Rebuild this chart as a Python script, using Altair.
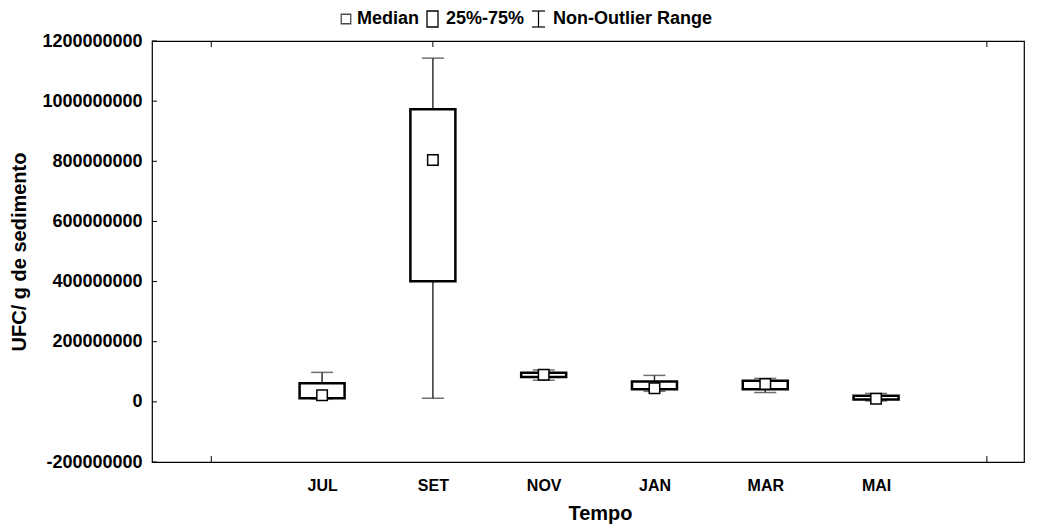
import altair as alt
import pandas as pd

categories = ["JUL", "SET", "NOV", "JAN", "MAR", "MAI"]
whisker_low = [10e6, 12e6, 72e6, 35e6, 31e6, 3e6]
q1 = [12e6, 401e6, 83e6, 42e6, 42e6, 8e6]
median = [22e6, 804e6, 90e6, 45e6, 59e6, 10e6]
q3 = [62e6, 973e6, 97e6, 68e6, 70e6, 20e6]
whisker_high = [98e6, 1143e6, 106e6, 88e6, 78e6, 28e6]

y_ticks = [-200e6, 0, 200e6, 400e6, 600e6, 800e6, 1000e6, 1200e6]
x_tick_pos_bottom = [0, 7]
x_tick_pos_top = [0, 2, 7]

legend_labels = ["Median", "25%-75%", "Non-Outlier Range"]

FONT = "Liberation Sans"

df = pd.DataFrame({
    "cat": categories,
    "pos": list(range(1, len(categories) + 1)),
    "lo": whisker_low, "q1": q1, "med": median, "q3": q3, "hi": whisker_high,
})

xs = alt.Scale(domain=[-0.49, 7.29], nice=False, zero=False)
ys = alt.Scale(domain=[-200e6, 1200e6], nice=False, zero=False)

label_expr = "datum.value==1?'JUL':datum.value==2?'SET':datum.value==3?'NOV':datum.value==4?'JAN':datum.value==5?'MAR':datum.value==6?'MAI':''"
ylabel_expr = "datum.value < 0 ? '-' + format(-datum.value, '.0f') : format(datum.value, '.0f')"

base = alt.Chart(df)

whisk = base.mark_rule(color="#333333", strokeWidth=1.5).encode(
    x=alt.X("pos:Q", scale=xs, title="Tempo",
            axis=alt.Axis(values=[1, 2, 3, 4, 5, 6], labelExpr=label_expr, tickSize=0,
                          labelPadding=15, titlePadding=10, domain=False, grid=False,
                          titleX=448, titleAlign="center",
                          labelFont=FONT, labelFontSize=16, labelFontWeight="bold", labelColor="black",
                          titleFont=FONT, titleFontSize=20, titleFontWeight="bold", titleColor="black")),
    y=alt.Y("lo:Q", scale=ys, title="UFC/ g de sedimento",
            axis=alt.Axis(values=y_ticks, labelExpr=ylabel_expr, tickSize=0, labelPadding=10,
                          titlePadding=12, domain=False, grid=False,
                          labelFont=FONT, labelFontSize=18, labelFontWeight="bold", labelColor="black",
                          titleFont=FONT, titleFontSize=20, titleFontWeight="bold", titleColor="black")),
    y2="hi:Q",
)
cap_hi = base.mark_tick(orient="horizontal", size=22, thickness=1.5, color="#333333").encode(
    x=alt.X("pos:Q", scale=xs), y=alt.Y("hi:Q", scale=ys))
cap_lo = base.mark_tick(orient="horizontal", size=22, thickness=1.5, color="#333333").encode(
    x=alt.X("pos:Q", scale=xs), y=alt.Y("lo:Q", scale=ys))
box = base.mark_bar(size=45, fill="white", stroke="black", strokeWidth=2.5).encode(
    x=alt.X("pos:Q", scale=xs), y=alt.Y("q1:Q", scale=ys), y2="q3:Q")
med = base.mark_square(size=110, filled=True, fill="white", stroke="black", strokeWidth=1.5, opacity=1).encode(
    x=alt.X("pos:Q", scale=xs), y=alt.Y("med:Q", scale=ys))

ytick_df = pd.DataFrame({"v": y_ticks})
yticks = alt.Chart(ytick_df).mark_rule(color="black", strokeWidth=1).encode(
    y=alt.Y("v:Q", scale=ys), x=alt.value(0), x2=alt.value(5))

xb_df = pd.DataFrame({"p": x_tick_pos_bottom})
xt_df = pd.DataFrame({"p": x_tick_pos_top})
xticks_b = alt.Chart(xb_df).mark_rule(color="black", strokeWidth=1).encode(
    x=alt.X("p:Q", scale=xs), y=alt.value(421), y2=alt.value(415))
xticks_t = alt.Chart(xt_df).mark_rule(color="black", strokeWidth=1).encode(
    x=alt.X("p:Q", scale=xs), y=alt.value(0), y2=alt.value(6))

# legend (drawn above the plot area)
leg_y = -22
leg_text = pd.DataFrame({"t": legend_labels, "xp": [205, 294, 401]})
legend_text = alt.Chart(leg_text).mark_text(align="left", baseline="middle", font=FONT,
                                            fontSize=18, fontWeight="bold", color="black").encode(
    x=alt.X("xp:Q", scale=None), y=alt.value(leg_y), text="t:N")
leg_sq = alt.Chart(pd.DataFrame({"a": [0]})).mark_square(size=90, filled=True, fill="white",
                                                         stroke="black", strokeWidth=1.3).encode(
    x=alt.value(194), y=alt.value(leg_y))
leg_box = alt.Chart(pd.DataFrame({"a": [0]})).mark_rect(fill="white", stroke="black", strokeWidth=1.3).encode(
    x=alt.value(275), x2=alt.value(286), y=alt.value(leg_y - 8), y2=alt.value(leg_y + 8))
leg_wh = alt.Chart(pd.DataFrame({"a": [0]})).mark_rule(color="black", strokeWidth=1.2).encode(
    x=alt.value(386.5), y=alt.value(leg_y - 8), y2=alt.value(leg_y + 8))
leg_wt = alt.Chart(pd.DataFrame({"a": [0]})).mark_rule(color="black", strokeWidth=1.2).encode(
    x=alt.value(380), x2=alt.value(393), y=alt.value(leg_y - 8))
leg_wb = alt.Chart(pd.DataFrame({"a": [0]})).mark_rule(color="black", strokeWidth=1.2).encode(
    x=alt.value(380), x2=alt.value(393), y=alt.value(leg_y + 8))

chart = alt.layer(
    whisk, cap_hi, cap_lo, box, med, yticks, xticks_b, xticks_t,
    legend_text, leg_sq, leg_box, leg_wh, leg_wt, leg_wb,
).properties(
    width=872, height=421,
    autosize=alt.AutoSizeParams(type="none"),
    padding={"left": 152, "top": 41, "right": 17, "bottom": 67},
    background="white",
).configure_view(stroke="black", strokeWidth=1.2)

chart.save("out.html", embed_options={"renderer": "svg", "actions": False})
